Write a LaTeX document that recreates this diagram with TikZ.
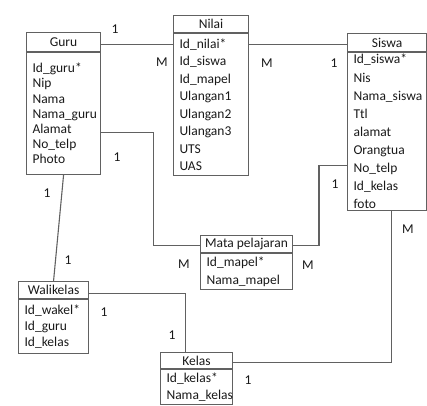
\documentclass[tikz,border=0pt]{standalone}
\usepackage{fontspec}
\setmainfont{Carlito}
\usetikzlibrary{positioning}
\begin{document}
\begin{tikzpicture}[x=1pt, y=-1pt, line width=1.1pt, draw=black!62,
    every node/.style={font=\fontsize{13.5}{15}\selectfont, text=black!90},
    head/.style={draw=black!62, minimum height=#1, inner sep=0pt, anchor=north west},
    attrs/.style={draw=black!62, align=left, inner xsep=6pt, inner ysep=0pt,
        font=\fontsize{13.5}{#1}\selectfont}]
    \useasboundingbox (0,0) rectangle (427,405);
    % tabel
    \node[head=19pt, minimum width=74pt] (guru) at (26,32) {Guru};
    \node[attrs=15.2pt, text width=62pt, minimum height=122pt, below=0pt of guru] (guru-body)
        {Id\_guru*\\Nip\\Nama\\Nama\_guru\\Alamat\\No\_telp\\Photo};
    \node[head=17pt, minimum width=75pt] (nilai) at (173,15) {Nilai};
    \node[attrs=17.5pt, text width=63pt, minimum height=142pt, below=0pt of nilai] (nilai-body)
        {Id\_nilai*\\Id\_siswa\\Id\_mapel\\Ulangan1\\Ulangan2\\Ulangan3\\UTS\\UAS};
    \node[head=18pt, minimum width=79pt] (siswa) at (347,33) {Siswa};
    \node[attrs=18.1pt, text width=67pt, minimum height=158pt, below=0pt of siswa] (siswa-body)
        {Id\_siswa*\\Nis\\Nama\_siswa\\Ttl\\alamat\\Orangtua\\No\_telp\\Id\_kelas\\foto};
    \node[head=17pt, minimum width=92pt] (mata) at (200,235) {Mata pelajaran};
    \node[attrs=18.3pt, text width=80pt, minimum height=36pt, below=0pt of mata] (mata-body)
        {Id\_mapel*\\Nama\_mapel};
    \node[head=17pt, minimum width=70pt] (walikelas) at (18,281) {Walikelas};
    \node[attrs=16pt, text width=58pt, minimum height=54pt, below=0pt of walikelas] (walikelas-body)
        {Id\_wakel*\\Id\_guru\\Id\_kelas};
    \node[head=16pt, minimum width=72pt] (kelas) at (160,352) {Kelas};
    \node[attrs=17pt, text width=60pt, minimum height=35pt, below=0pt of kelas] (kelas-body)
        {Id\_kelas*\\Nama\_kelas};
    % relasi
    \draw ([yshift=-2.5pt]guru.east) -- ([yshift=-2.5pt]guru.east -| nilai-body.west);
    \draw ([yshift=-2pt]siswa.west) -- ([yshift=-2pt]siswa.west -| nilai-body.east);
    \draw ([yshift=-19pt]guru-body.east) -- ++(52,0) |- ([yshift=-1.5pt]mata.west);
    \draw ([yshift=-34pt]siswa-body.west) -- ++(-28,0) |- ([yshift=-1.5pt]mata.east);
    \draw (guru-body.south) -- (walikelas.north);
    \draw ([yshift=-3pt]walikelas.east) -| ([xshift=-11pt]kelas.north);
    \draw ([xshift=4pt]siswa-body.south) |- ([yshift=-2pt]kelas.east);
    % kardinalitas
    \node (k-guru-nilai) at (115,29) {1};
    \node (k-nilai-guru) at (162,62) {M};
    \node (k-nilai-siswa) at (267,63) {M};
    \node (k-siswa-nilai) at (334,63) {1};
    \node (k-guru-mata) at (117,157) {1};
    \node (k-guru-wali) at (47,193) {1};
    \node (k-wali-guru) at (68,260) {1};
    \node (k-mata-guru) at (184,264) {M};
    \node (k-mata-siswa) at (308,265) {M};
    \node (k-siswa-mata) at (335,184) {1};
    \node (k-siswa-kelas) at (408,229) {M};
    \node (k-wali-kelas) at (104,312) {1};
    \node (k-kelas-wali) at (172,335) {1};
    \node (k-kelas-siswa) at (248,380) {1};
\end{tikzpicture}
\end{document}
